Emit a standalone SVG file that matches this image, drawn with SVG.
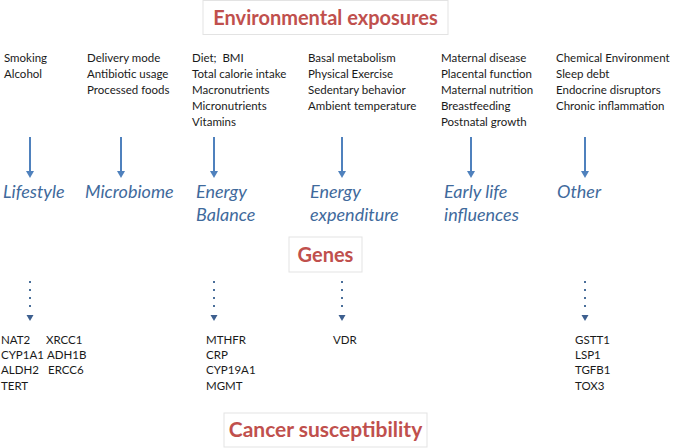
<svg xmlns="http://www.w3.org/2000/svg" width="674" height="448" viewBox="0 0 674 448">
<defs>
<style>
.title{font-family:Lato,"Liberation Sans",sans-serif;font-weight:bold;font-size:20px;fill:#c0504d;text-anchor:middle}
.tbox{fill:#fff;stroke:#e3e3e3;stroke-width:1}
.item{font-family:Lato,"Liberation Sans",sans-serif;font-size:11.5px;fill:#1a1a1a;white-space:pre}
.cat{font-family:Lato,"Liberation Sans",sans-serif;font-style:italic;font-size:18px;fill:#3f6a9c}
.gene{font-family:Lato,"Liberation Sans",sans-serif;font-size:11.5px;fill:#1a1a1a}
.arr{stroke:#4f81bd;stroke-width:2;fill:none}
.dot{stroke:#4a6f9a;stroke-width:2;stroke-dasharray:2 6;fill:none}
</style>
</defs>
<rect width="674" height="448" fill="#fff"/>

<g id="env-title">
<rect class="tbox" x="203" y="0.5" width="245" height="34"/>
<text class="title" x="325.5" y="25">Environmental exposures</text>
</g>

<g id="col-lifestyle">
<text class="item" x="4" y="62">Smoking</text>
<text class="item" x="4" y="78">Alcohol</text>
<text class="cat" x="3" y="198">Lifestyle</text>
</g>
<g id="col-microbiome">
<text class="item" x="87" y="62">Delivery mode</text>
<text class="item" x="87" y="78">Antibiotic usage</text>
<text class="item" x="87" y="94">Processed foods</text>
<text class="cat" x="85" y="198">Microbiome</text>
</g>
<g id="col-energy-balance">
<text class="item" x="192" y="62" xml:space="preserve">Diet;  BMI</text>
<text class="item" x="192" y="78">Total calorie intake</text>
<text class="item" x="192" y="94">Macronutrients</text>
<text class="item" x="192" y="110">Micronutrients</text>
<text class="item" x="192" y="126">Vitamins</text>
<text class="cat" x="196" y="198">Energy</text>
<text class="cat" x="196" y="221">Balance</text>
</g>
<g id="col-energy-expenditure">
<text class="item" x="308" y="62">Basal metabolism</text>
<text class="item" x="308" y="78">Physical Exercise</text>
<text class="item" x="308" y="94">Sedentary behavior</text>
<text class="item" x="308" y="110">Ambient temperature</text>
<text class="cat" x="310" y="198">Energy</text>
<text class="cat" x="310" y="221">expenditure</text>
</g>
<g id="col-early-life">
<text class="item" x="441" y="62">Maternal disease</text>
<text class="item" x="441" y="78">Placental function</text>
<text class="item" x="441" y="94">Maternal nutrition</text>
<text class="item" x="441" y="110">Breastfeeding</text>
<text class="item" x="441" y="126">Postnatal growth</text>
<text class="cat" x="444" y="198">Early life</text>
<text class="cat" x="444" y="221">influences</text>
</g>
<g id="col-other">
<text class="item" x="556" y="62">Chemical Environment</text>
<text class="item" x="556" y="78">Sleep debt</text>
<text class="item" x="556" y="94">Endocrine disruptors</text>
<text class="item" x="556" y="110">Chronic inflammation</text>
<text class="cat" x="557" y="198">Other</text>
</g>

<g id="genes-title">
<rect class="tbox" x="289" y="237" width="73" height="35"/>
<text class="title" x="325.5" y="262">Genes</text>
</g>

<g id="genes-lifestyle">
<text class="gene" x="1" y="344">NAT2</text>
<text class="gene" x="46" y="344">XRCC1</text>
<text class="gene" x="1" y="359">CYP1A1</text>
<text class="gene" x="47" y="359">ADH1B</text>
<text class="gene" x="1" y="374">ALDH2</text>
<text class="gene" x="48" y="374">ERCC6</text>
<text class="gene" x="1" y="390">TERT</text>
</g>
<g id="genes-energy-balance">
<text class="gene" x="206" y="344">MTHFR</text>
<text class="gene" x="206" y="359">CRP</text>
<text class="gene" x="206" y="374">CYP19A1</text>
<text class="gene" x="206" y="390">MGMT</text>
</g>
<g id="genes-energy-expenditure">
<text class="gene" x="333" y="344">VDR</text>
</g>
<g id="genes-other">
<text class="gene" x="575" y="344">GSTT1</text>
<text class="gene" x="575" y="359">LSP1</text>
<text class="gene" x="575" y="374">TGFB1</text>
<text class="gene" x="575" y="390">TOX3</text>
</g>

<g id="cancer-title">
<rect class="tbox" x="224" y="413" width="203" height="34"/>
<text class="title" x="325.5" y="437" style="font-size:21px">Cancer susceptibility</text>
</g>

<g id="connectors">
<g fill="#4f81bd">
<line class="arr" x1="30" y1="137" x2="30" y2="172"/><path d="M26,171 L34,171 L30,178 z"/>
<line class="arr" x1="121" y1="137" x2="121" y2="172"/><path d="M117,171 L125,171 L121,178 z"/>
<line class="arr" x1="214" y1="137" x2="214" y2="172"/><path d="M210,171 L218,171 L214,178 z"/>
<line class="arr" x1="342" y1="137" x2="342" y2="172"/><path d="M338,171 L346,171 L342,178 z"/>
<line class="arr" x1="471" y1="137" x2="471" y2="172"/><path d="M467,171 L475,171 L471,178 z"/>
<line class="arr" x1="585" y1="137" x2="585" y2="172"/><path d="M581,171 L589,171 L585,178 z"/>
</g>
<g fill="#3d5f8f">
<line class="dot" x1="30" y1="281" x2="30" y2="312"/><path d="M26.5,315 L33.5,315 L30,321 z"/>
<line class="dot" x1="214" y1="281" x2="214" y2="312"/><path d="M210.5,315 L217.5,315 L214,321 z"/>
<line class="dot" x1="342" y1="281" x2="342" y2="312"/><path d="M338.5,315 L345.5,315 L342,321 z"/>
<line class="dot" x1="585" y1="281" x2="585" y2="312"/><path d="M581.5,315 L588.5,315 L585,321 z"/>
</g>
</g>
</svg>
